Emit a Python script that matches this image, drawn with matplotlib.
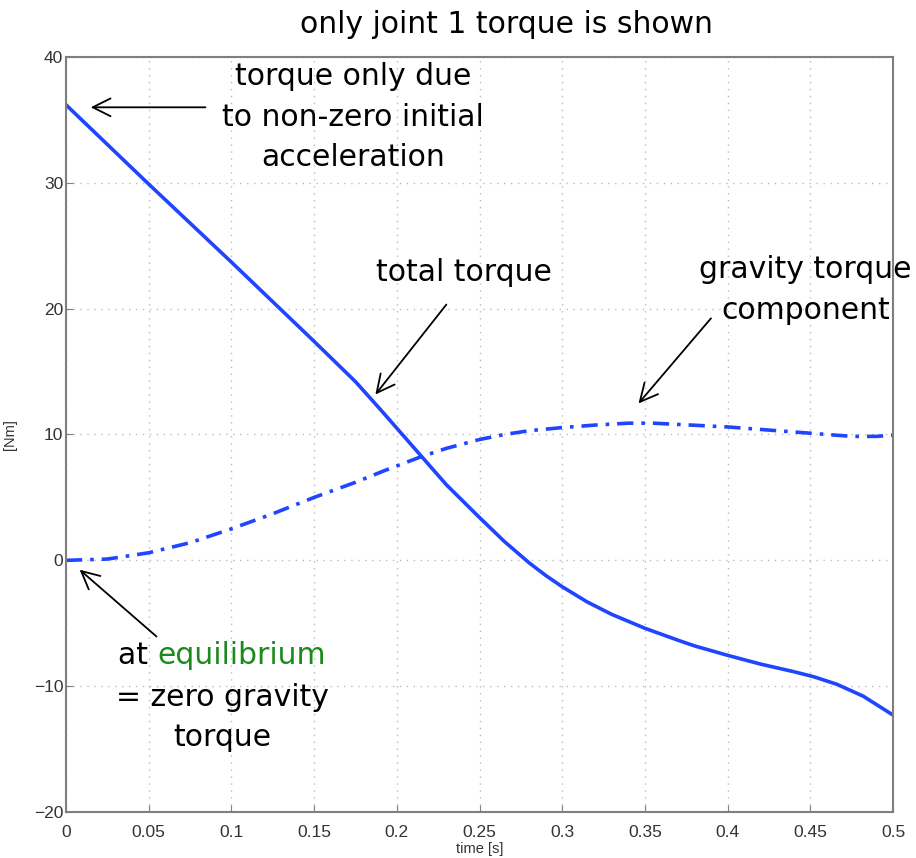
import matplotlib.pyplot as plt

# joint 1 total torque [Nm]
t_total = [0.0, 0.05, 0.1, 0.15, 0.175, 0.19, 0.2, 0.214, 0.23, 0.25, 0.265,
           0.28, 0.29, 0.3, 0.315, 0.33, 0.35, 0.37, 0.38, 0.4, 0.42, 0.44,
           0.452, 0.466, 0.482, 0.5]
total_torque = [36.2, 29.9, 23.7, 17.4, 14.2, 12.0, 10.5, 8.4, 6.0, 3.4, 1.5,
                -0.2, -1.2, -2.1, -3.3, -4.3, -5.4, -6.35, -6.8, -7.55, -8.25, -8.85,
                -9.25, -9.85, -10.8, -12.3]

# gravity torque component [Nm]
t_grav = [0.0, 0.025, 0.05, 0.075, 0.1, 0.125, 0.15, 0.175, 0.192, 0.214, 0.23,
          0.25, 0.265, 0.28, 0.3, 0.32, 0.34, 0.355, 0.37, 0.4, 0.425, 0.45,
          0.475, 0.49, 0.5]
gravity_torque = [0.0, 0.1, 0.6, 1.4, 2.5, 3.7, 5.0, 6.2, 7.1, 8.2, 8.9,
                  9.6, 10.0, 10.3, 10.55, 10.75, 10.9, 10.9, 10.8, 10.6, 10.35, 10.1,
                  9.85, 9.85, 9.95]

xticks = [0, 0.05, 0.1, 0.15, 0.2, 0.25, 0.3, 0.35, 0.4, 0.45, 0.5]
xticklabels = ['0', '0.05', '0.1', '0.15', '0.2', '0.25', '0.3', '0.35', '0.4', '0.45', '0.5']
yticks = [-20, -10, 0, 10, 20, 30, 40]
yticklabels = ['\u221220', '\u221210', '0', '10', '20', '30', '40']

blue = '#1f45ff'
gray = '#7f7f7f'
FS = 21.5

fig = plt.figure(figsize=(9.16, 8.58), dpi=100)
ax = fig.add_axes([0.072, 0.0536, 0.903, 0.88])

ax.plot(t_total, total_torque, color=blue, lw=2.6, solid_joinstyle='round')
ax.plot(t_grav, gravity_torque, color=blue, lw=2.6, linestyle=(0, (4.5, 2.2, 1.0, 2.2)))

ax.set_xlim(0, 0.5)
ax.set_ylim(-20, 40)
ax.set_xticks(xticks)
ax.set_xticklabels(xticklabels, fontsize=12.5, family='Liberation Sans', color='#333333')
ax.set_yticks(yticks)
ax.set_yticklabels(yticklabels, fontsize=12.5, family='Liberation Sans', color='#333333')
ax.tick_params(direction='in', length=5, color=gray, pad=2)
ax.tick_params(axis='x', pad=9)
for s in ax.spines.values():
    s.set_color(gray)
    s.set_linewidth(1.5)
ax.grid(True, linestyle=(0, (1, 4)), color='#bbbbbb', lw=1.0)

ax.set_xlabel('time [s]', fontsize=10.5, family='Liberation Sans', color='#333333', labelpad=2)
ax.set_ylabel('[Nm]', fontsize=10.5, family='Liberation Sans', color='#333333', labelpad=12)

# annotations
fig.text(0.553, 0.971, 'only joint 1 torque is shown', ha='center', va='center', fontsize=FS)

arrow = dict(arrowstyle='->', color='black', lw=1.3, mutation_scale=32)

ax.annotate('', xy=(0.0133, 36.0), xytext=(0.086, 36.0), arrowprops=arrow)
ax.text(0.1735, 35.2, 'torque only due\nto non-zero initial\nacceleration', fontsize=FS,
        ha='center', va='center', linespacing=1.5)

ax.annotate('', xy=(0.186, 13.0), xytext=(0.231, 20.5), arrowprops=arrow)
ax.text(0.2406, 22.9, 'total torque', fontsize=FS, ha='center', va='center')

ax.annotate('', xy=(0.345, 12.3), xytext=(0.391, 19.4), arrowprops=arrow)
ax.text(0.447, 21.5, 'gravity torque\ncomponent', fontsize=FS, ha='center', va='center',
        linespacing=1.5)

ax.annotate('', xy=(0.007, -0.6), xytext=(0.056, -6.2), arrowprops=arrow)
t1 = ax.text(0.0314, -7.6, 'at ', fontsize=FS, ha='left', va='center')
ax.annotate('equilibrium', xy=(1, 0.5), xycoords=t1, fontsize=FS, ha='left', va='center',
            color='#1a8a1a')
ax.text(0.0943, -12.5, '= zero gravity\ntorque', fontsize=FS, ha='center', va='center',
        linespacing=1.45)

fig.savefig('out.png', dpi=100)
